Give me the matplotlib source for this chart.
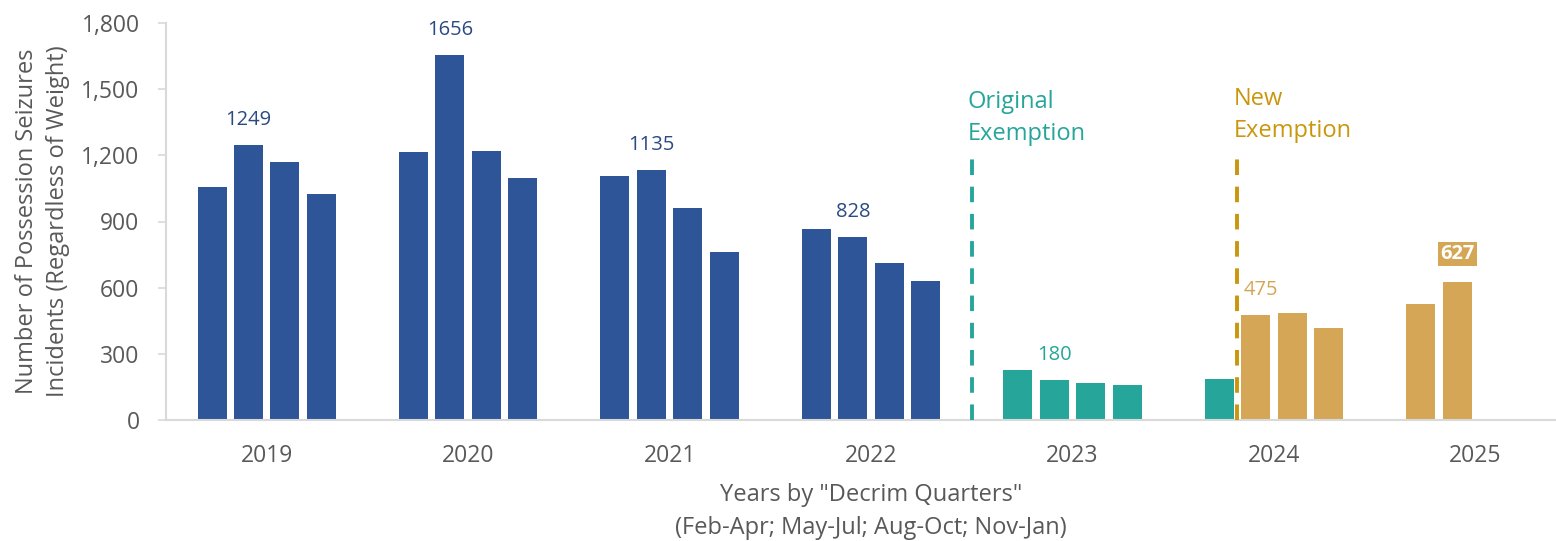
import matplotlib.pyplot as plt
import numpy as np
from matplotlib.ticker import FuncFormatter

plt.rcParams['font.family'] = ['Open Sans', 'DejaVu Sans']

years = ['2019', '2020', '2021', '2022', '2023', '2024', '2025']
# quarterly seizures (Feb-Apr, May-Jul, Aug-Oct, Nov-Jan); 2025 has only two
q1 = [1058, 1216, 1107, 864, 226, 185, 526]
q2 = [1249, 1656, 1135, 828, 180, 475, 627]
q3 = [1170, 1220, 963, 710, 166, 484, None]
q4 = [1026, 1097, 760, 632, 157, 416, None]
# 0 = before exemption, 1 = original exemption, 2 = new exemption
era = [[0, 0, 0, 0], [0, 0, 0, 0], [0, 0, 0, 0], [0, 0, 0, 0],
       [1, 1, 1, 1], [1, 2, 2, 2], [2, 2]]

bar_col = ['#2E5597', '#26A69A', '#D4A655']
lab_col = ['#2B4A82', '#26A69A', '#D4A655']
tick_col = '#595959'
grid_col = '#D9D9D9'

fig = plt.figure(figsize=(15.56, 5.41), dpi=100)
ax = fig.add_axes([166 / 1556, 1 - 420 / 541, (1576 - 166) / 1556, (420 - 23) / 541])

offs = np.array([-1.5, -0.5, 0.5, 1.5]) * 0.181
w = 0.144
for i, y in enumerate(years):
    vals = [v for v in (q1[i], q2[i], q3[i], q4[i]) if v is not None]
    for j, v in enumerate(vals):
        ax.bar(i + offs[j], v, width=w, color=bar_col[era[i][j]], zorder=2)
    # label the May-Jul bar
    e = era[i][1]
    if y == '2025':
        ax.annotate(str(q2[i]), (i + offs[1], q2[i]), xytext=(0, 20), textcoords='offset points',
                    ha='center', va='center', fontsize=14.5, fontweight='bold', color='white',
                    bbox=dict(boxstyle='square,pad=0.12', fc=bar_col[2], ec='none'))
    elif y == '2024':
        ax.annotate(str(q2[i]), (i + offs[1], q2[i]), xytext=(4, 18), textcoords='offset points',
                    ha='center', va='center', fontsize=14.5, color=lab_col[e])
    else:
        ax.annotate(str(q2[i]), (i + offs[1], q2[i]), xytext=(0, 18), textcoords='offset points',
                    ha='center', va='center', fontsize=14.5, color=lab_col[e])

# exemption markers
ax.plot([3.5, 3.5], [0, 1225], color='#26A69A', lw=2.8, ls=(0, (4, 3)), zorder=3)
ax.plot([4.818, 4.818], [0, 1225], color='#C9960C', lw=2.8, ls=(0, (4, 3)), zorder=3)
ax.text(3.48, 1369, 'Original\nExemption', color='#26A69A', fontsize=17,
        ha='left', va='center', linespacing=1.45)
ax.text(4.80, 1383, 'New\nExemption', color='#C9960C', fontsize=17,
        ha='left', va='center', linespacing=1.45)

ax.set_xlim(-0.5, 6.5)
ax.set_ylim(0, 1800)
ax.set_yticks(range(0, 1801, 300))
ax.yaxis.set_major_formatter(FuncFormatter(lambda v, p: f'{int(v):,}'))
ax.set_xticks(range(len(years)))
ax.set_xticklabels(years)

for s in ['top', 'right']:
    ax.spines[s].set_visible(False)
for s in ['left', 'bottom']:
    ax.spines[s].set_color(grid_col)
    ax.spines[s].set_linewidth(1.5)
ax.tick_params(axis='y', colors=grid_col, labelcolor=tick_col, labelsize=16.5, length=6, width=1.2, pad=13)
ax.tick_params(axis='x', length=0, labelcolor=tick_col, labelsize=16.5, pad=17)

ax.set_ylabel('Number of Possession Seizures\nIncidents (Regardless of Weight)',
              fontsize=17, color=tick_col, labelpad=8, linespacing=1.4)
ax.set_xlabel('Years by "Decrim Quarters"\n(Feb-Apr; May-Jul; Aug-Oct; Nov-Jan)',
              fontsize=17, color=tick_col, labelpad=11, linespacing=1.5)

fig.savefig('out.png', dpi=100)
